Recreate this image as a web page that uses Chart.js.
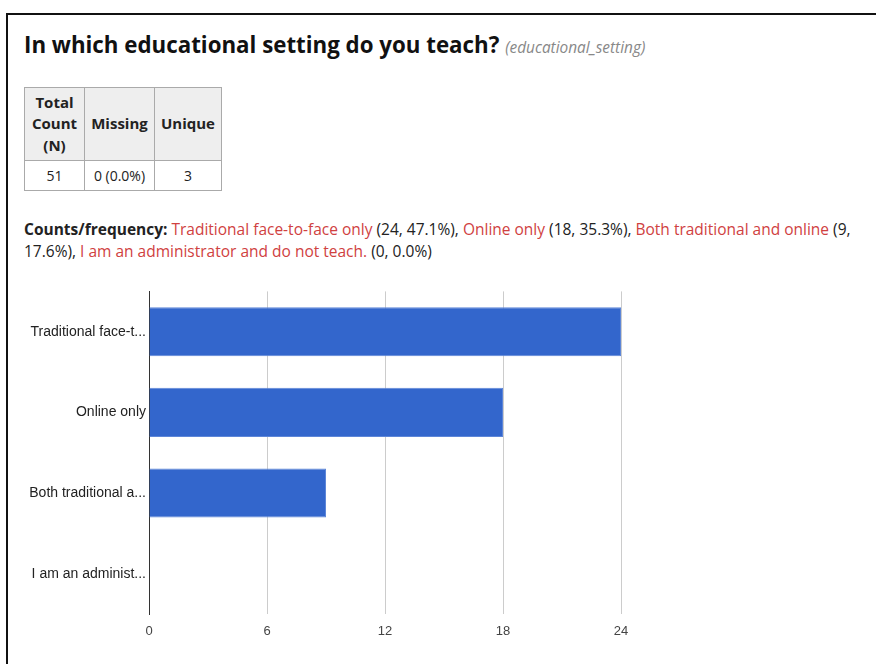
<!DOCTYPE html>
<html>
<head>
<meta charset="utf-8">
<script src="https://cdn.jsdelivr.net/npm/chart.js@4/dist/chart.umd.min.js"></script>
<style>
  html, body { margin: 0; padding: 0; background: #fff; }
  body { width: 876px; height: 664px; overflow: hidden; position: relative; font-family: "Open Sans", sans-serif; color: #222; }
  .frame { position: absolute; left: 6px; top: 13px; width: 900px; height: 700px; border-left: 2px solid #111; border-top: 2px solid #111; }
  h2 { position: absolute; left: 24px; top: 30px; margin: 0; font-size: 22.3px; line-height: 30px; font-weight: 700; color: #111; white-space: nowrap; }
  h2 small { font-size: 15.4px; font-weight: 400; font-style: italic; color: #888; }
  table { position: absolute; left: 24px; top: 87px; border-collapse: collapse; font-size: 15px; table-layout: fixed; }
  th, td { border: 1px solid #aaa; text-align: center; padding: 0 2px; line-height: 21.5px; }
  th { background: #eee; font-weight: 700; height: 72px; }
  td { font-size: 14px; height: 29px; }
  .freq { position: absolute; left: 24px; top: 218px; width: 848px; font-size: 15.5px; line-height: 22px; color: #222; }
  .freq b { font-weight: 700; }
  .freq span { color: #d0413f; }
  .chart-box { position: absolute; left: 20px; top: 280px; width: 640px; height: 374px; }
</style>
</head>
<body>
<div class="frame"></div>
<h2>In which educational setting do you teach? <small>(educational_setting)</small></h2>
<table>
  <colgroup><col style="width:60px"><col style="width:70px"><col style="width:67px"></colgroup>
  <tr><th>Total<br>Count<br>(N)</th><th>Missing</th><th>Unique</th></tr>
  <tr><td>51</td><td>0 (0.0%)</td><td>3</td></tr>
</table>
<div class="freq" id="freq"></div>
<div class="chart-box"><canvas id="settingChart"></canvas></div>
<script>
const categories = [
  "Traditional face-to-face only",
  "Online only",
  "Both traditional and online",
  "I am an administrator and do not teach."
];
const counts = [24, 18, 9, 0];
const percents = ["47.1%", "35.3%", "17.6%", "0.0%"];
const xTicks = [0, 6, 12, 18, 24];

// summary line above the chart
document.getElementById("freq").innerHTML = "<b>Counts/frequency:</b> " +
  categories.map((c, i) => `<span>${c}</span> (${counts[i]}, ${percents[i]})`).join(", ");

// shorten long category names the way the axis shows them
const measureCtx = document.createElement("canvas").getContext("2d");
measureCtx.font = "14px Arial";
function shorten(label, maxW) {
  if (measureCtx.measureText(label).width <= maxW) return label;
  let s = label;
  while (s.length && measureCtx.measureText(s + "...").width > maxW) s = s.slice(0, -1);
  return s + "...";
}

new Chart(document.getElementById("settingChart"), {
  type: "bar",
  data: {
    labels: categories,
    datasets: [{
      data: counts,
      backgroundColor: "#3366cc",
      borderColor: "#5d86d8",
      borderWidth: 1,
      barPercentage: 0.61,
      categoryPercentage: 1
    }]
  },
  options: {
    indexAxis: "y",
    responsive: true,
    maintainAspectRatio: false,
    animation: false,
    layout: { padding: { top: 2, right: 39, left: 0, bottom: 0 } },
    plugins: { legend: { display: false }, tooltip: { enabled: false } },
    scales: {
      x: {
        min: 0,
        max: 24,
        afterBuildTicks: (axis) => { axis.ticks = xTicks.map(v => ({ value: v })); },
        afterFit: (axis) => { axis.height = 40; },
        border: { display: false },
        grid: {
          drawTicks: false,
          color: (ctx) => ctx.tick && ctx.tick.value === 0 ? "rgba(0,0,0,0)" : "#cccccc"
        },
        ticks: { padding: 10, color: "#444", font: { family: "Arial", size: 13 } }
      },
      y: {
        afterFit: (axis) => { axis.width = 129; },
        border: { display: true, color: "#333", width: 1 },
        grid: { display: false, drawTicks: false },
        ticks: {
          padding: 3,
          color: "#222",
          font: { family: "Arial", size: 14 },
          callback: function (v) { return shorten(this.getLabelForValue(v), 118); }
        }
      }
    }
  }
});
</script>
</body>
</html>
